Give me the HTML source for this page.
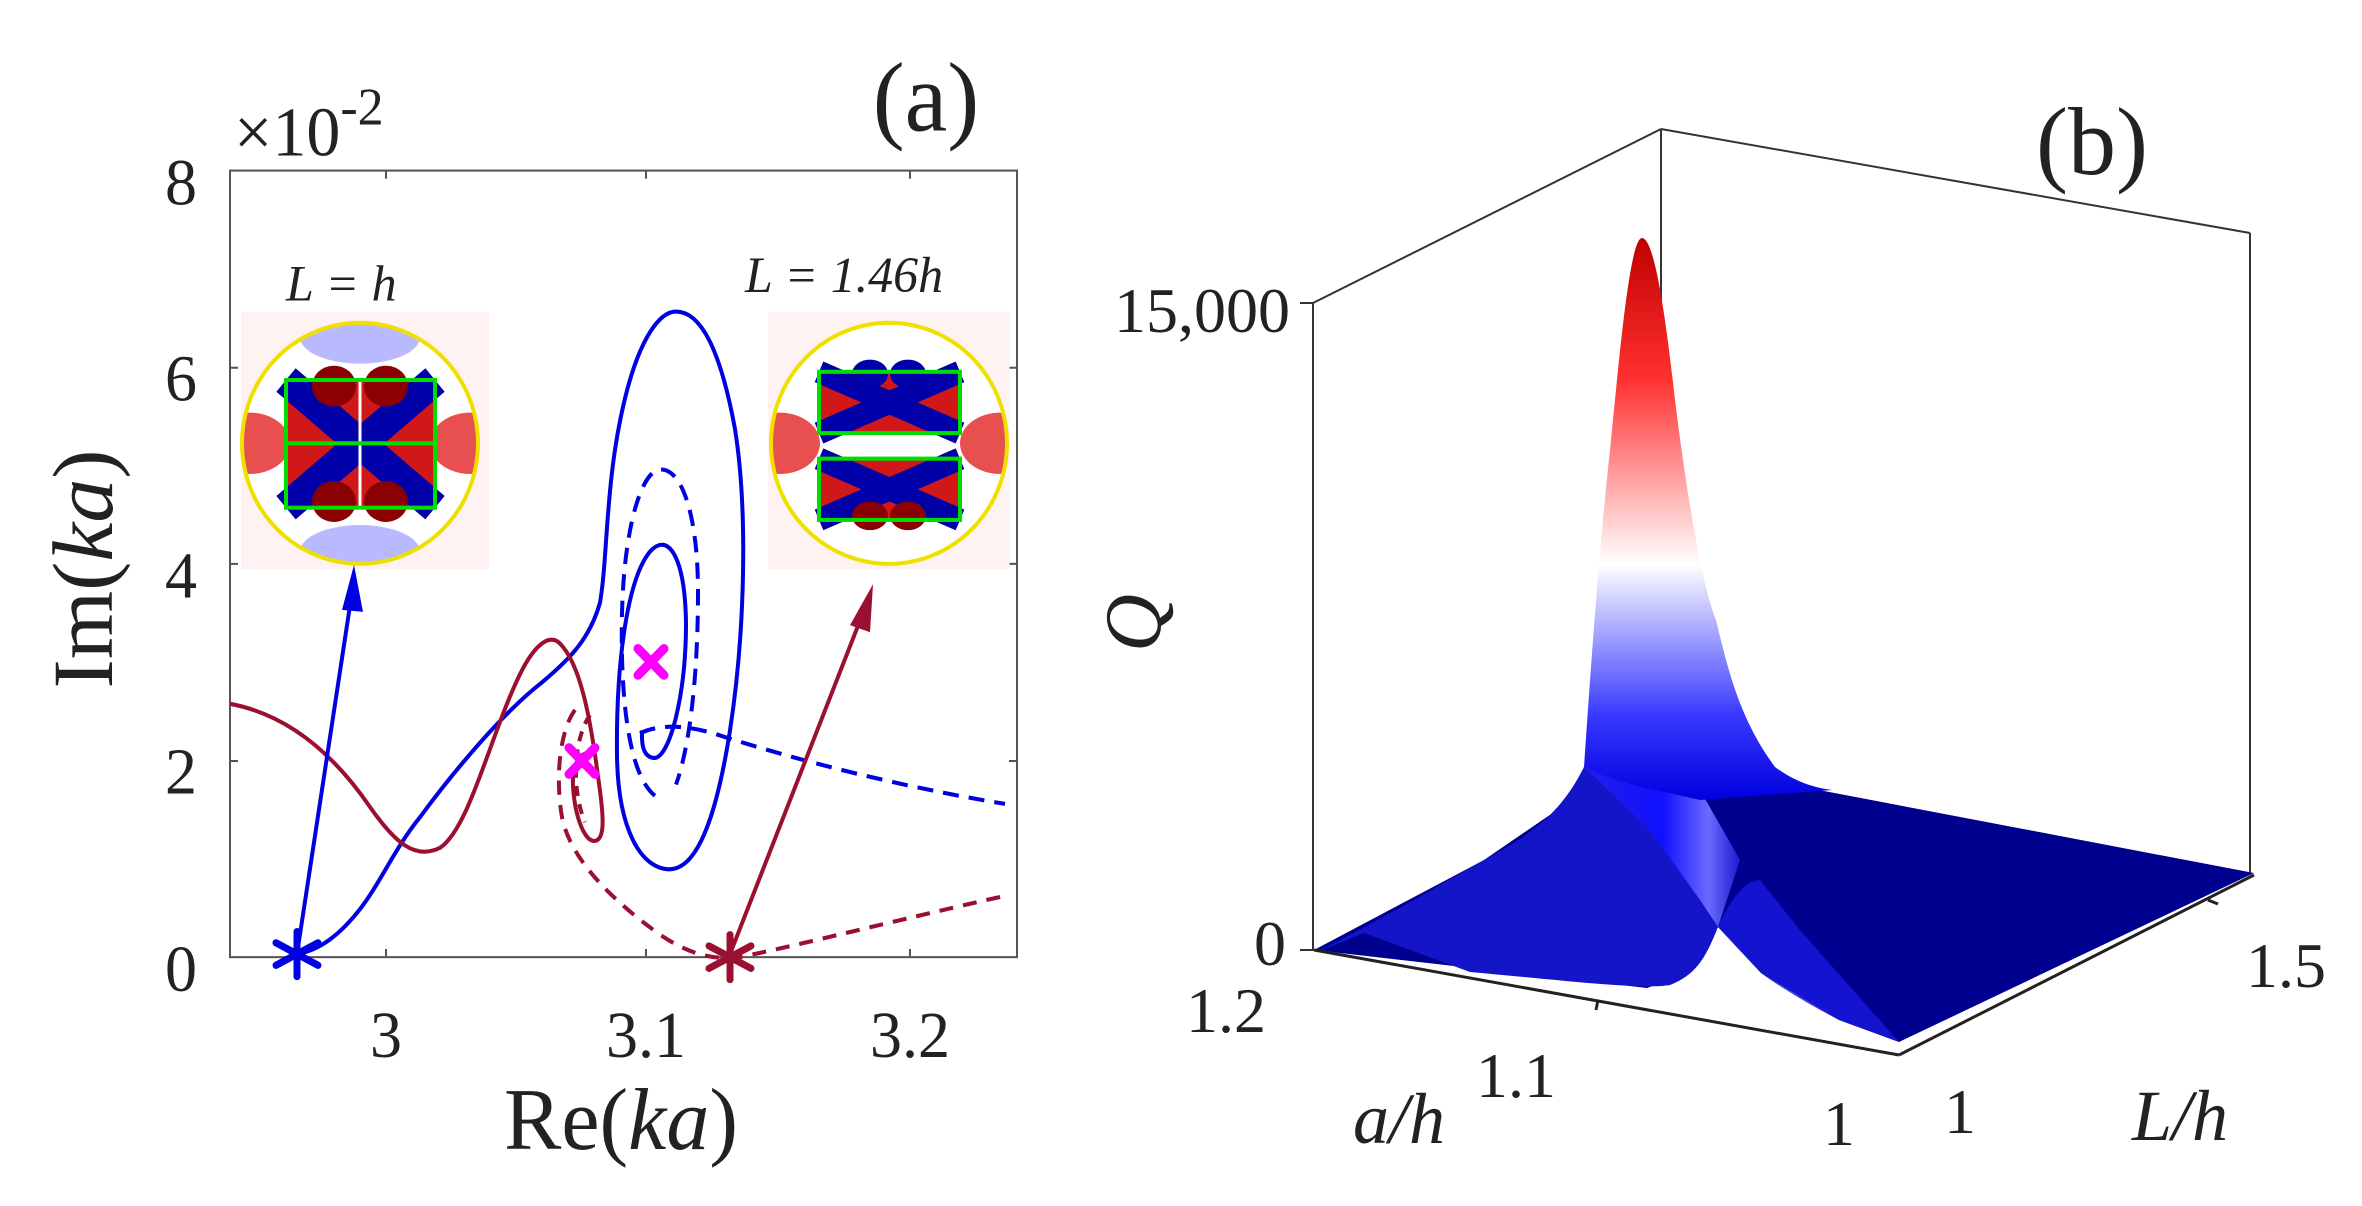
<!DOCTYPE html>
<html><head><meta charset="utf-8"><style>
body{margin:0;background:#fff}
svg{display:block}
text{font-family:"Liberation Serif",serif;fill:#222}
</style></head><body>
<svg width="2362" height="1206" viewBox="0 0 2362 1206" xmlns="http://www.w3.org/2000/svg">
<defs>
<linearGradient id="pk" x1="0" y1="238" x2="0" y2="800" gradientUnits="userSpaceOnUse">
<stop offset="0" stop-color="#c00000"/><stop offset="0.25" stop-color="#ff3030"/><stop offset="0.58" stop-color="#ffffff"/><stop offset="0.85" stop-color="#3838ff"/><stop offset="1" stop-color="#0000e0"/></linearGradient>
<linearGradient id="rg" x1="1584" y1="0" x2="1740" y2="0" gradientUnits="userSpaceOnUse">
<stop offset="0" stop-color="#2020e8"/><stop offset="0.5" stop-color="#1010ff"/><stop offset="0.8" stop-color="#6a6aff"/><stop offset="1" stop-color="#1a1ad0"/></linearGradient>
<clipPath id="c1"><circle cx="360" cy="434" r="118"/></clipPath>
<clipPath id="c2"><circle cx="889" cy="434" r="118"/></clipPath>
</defs>

<g transform="scale(1,1.0215)">
<!-- panel a -->
<rect x="230" y="167" width="787" height="770" fill="#fff" stroke="#555" stroke-width="2"/>
<g stroke="#555" stroke-width="2">
<line x1="386" y1="937" x2="386" y2="929"/><line x1="646" y1="937" x2="646" y2="929"/><line x1="910" y1="937" x2="910" y2="929"/>
<line x1="386" y1="167" x2="386" y2="175"/><line x1="646" y1="167" x2="646" y2="175"/><line x1="910" y1="167" x2="910" y2="175"/>
<line x1="230" y1="745" x2="238" y2="745"/><line x1="230" y1="552" x2="238" y2="552"/><line x1="230" y1="360" x2="238" y2="360"/>
<line x1="1017" y1="745" x2="1009" y2="745"/><line x1="1017" y1="552" x2="1009" y2="552"/><line x1="1017" y1="360" x2="1009" y2="360"/>
</g>
<g font-size="64" text-anchor="middle">
<text x="181" y="200">8</text><text x="181" y="392">6</text><text x="181" y="585">4</text><text x="181" y="777">2</text><text x="181" y="970">0</text>
<text x="386" y="1035">3</text><text x="646" y="1035">3.1</text><text x="910" y="1035">3.2</text>
</g>
<text x="234" y="152" font-size="68">×10<tspan font-size="52" dy="-30">-2</tspan></text>
<text x="926" y="128" font-size="96" text-anchor="middle">(a)</text>
<text x="621" y="1125" font-size="86" text-anchor="middle">Re(<tspan font-style="italic">ka</tspan>)</text>
<text transform="translate(112,557) rotate(-90)" font-size="86" text-anchor="middle">Im(<tspan font-style="italic">ka</tspan>)</text>

<!-- insets -->
<rect x="241" y="305" width="248" height="252" fill="#fdeaea" opacity="0.6"/>
<rect x="768" y="305" width="242" height="252" fill="#fdeaea" opacity="0.6"/>
<g clip-path="url(#c1)">
<rect x="240" y="314" width="240" height="240" fill="#fff"/>
<ellipse cx="250" cy="434" rx="40" ry="30" fill="#e8504f"/><ellipse cx="470" cy="434" rx="40" ry="30" fill="#e8504f"/>
<ellipse cx="360" cy="330" rx="60" ry="26" fill="#8a8aff" opacity="0.6"/><ellipse cx="360" cy="540" rx="60" ry="26" fill="#8a8aff" opacity="0.6"/>
<rect x="286" y="372" width="149" height="125" fill="#d01818"/>
<path d="M286 372L435 497M435 372L286 497" stroke="#0000a8" stroke-width="30"/>
<ellipse cx="334" cy="378" rx="22" ry="20" fill="#8b0000"/><ellipse cx="386" cy="378" rx="22" ry="20" fill="#8b0000"/>
<ellipse cx="334" cy="491" rx="22" ry="20" fill="#8b0000"/><ellipse cx="386" cy="491" rx="22" ry="20" fill="#8b0000"/>
<line x1="360" y1="372" x2="360" y2="497" stroke="#fff" stroke-width="3"/>
</g>
<circle cx="360" cy="434" r="118" fill="none" stroke="#f0e000" stroke-width="4"/>
<rect x="286" y="372" width="149" height="125" fill="none" stroke="#00dd00" stroke-width="4"/>
<line x1="286" y1="434" x2="435" y2="434" stroke="#00dd00" stroke-width="4"/>
<g clip-path="url(#c2)">
<rect x="770" y="314" width="240" height="240" fill="#fff"/>
<ellipse cx="780" cy="434" rx="40" ry="30" fill="#e8504f"/><ellipse cx="1000" cy="434" rx="40" ry="30" fill="#e8504f"/>
<rect x="819" y="364" width="141" height="60" fill="#d01818"/><rect x="819" y="449" width="141" height="60" fill="#d01818"/>
<path d="M819 364L960 424M960 364L819 424M819 449L960 509M960 449L819 509" stroke="#0000a8" stroke-width="22"/>
<ellipse cx="870" cy="366" rx="18" ry="14" fill="#0000a8"/><ellipse cx="908" cy="366" rx="18" ry="14" fill="#0000a8"/>
<ellipse cx="870" cy="505" rx="18" ry="14" fill="#8b0000"/><ellipse cx="908" cy="505" rx="18" ry="14" fill="#8b0000"/>
<ellipse cx="889" cy="437" rx="40" ry="10" fill="#fff"/>
</g>
<circle cx="889" cy="434" r="118" fill="none" stroke="#f0e000" stroke-width="4"/>
<rect x="819" y="364" width="141" height="60" fill="none" stroke="#00dd00" stroke-width="4"/>
<rect x="819" y="449" width="141" height="60" fill="none" stroke="#00dd00" stroke-width="4"/>
<text x="286" y="294" font-size="50" font-style="italic">L = h</text>
<text x="745" y="286" font-size="50" font-style="italic">L = 1.46h</text>

<!-- curves -->
<g fill="none" stroke-width="4" stroke-linejoin="round">
<path stroke="#0000e0" d="M297 934 C320 930 340 915 360 890 C380 865 395 830 420 800 C450 760 500 700 542 668 C570 645 590 625 600 590 C608 545 605 470 625 390 C640 330 660 305 676 305 C700 305 720 340 735 420 C748 500 745 620 730 715 C718 790 700 850 670 851 C640 851 618 810 617 740 C616 660 625 570 650 540 C668 520 685 545 686 610 C686 680 670 740 655 742 C640 742 642 720 642 715"/>
<path stroke="#0000e0" stroke-dasharray="16,10" d="M655 779 C630 760 620 690 622 600 C624 520 640 465 658 460 C680 455 698 500 698 580 C698 660 690 730 676 768"/>
<path stroke="#0000e0" stroke-dasharray="16,10" d="M640 718 C660 708 690 710 720 720 C800 745 900 770 1005 787"/>
<path stroke="#9b1030" d="M230 689 C290 700 335 740 370 790 C395 825 415 842 440 830 C470 810 490 720 520 660 C535 630 550 620 560 630 C580 650 590 700 598 760 C604 800 605 820 596 823 C585 826 575 800 573 770 C572 750 578 740 587 737"/>
<path stroke="#9b1030" stroke-dasharray="14,10" d="M575 695 C560 715 555 760 562 800 C570 840 610 880 660 915 C690 935 715 940 740 937 C800 925 900 900 1005 877"/>
<path stroke="#9b1030" stroke-dasharray="10,8" d="M590 700 C575 720 570 770 585 805"/>
</g>
<g stroke-width="4">
<line x1="297" y1="934" x2="352" y2="580" stroke="#0000e0"/>
<line x1="730" y1="934" x2="865" y2="595" stroke="#9b1030"/>
</g>
<polygon points="354,553 342,597 363,599" fill="#0000e0"/>
<polygon points="873,572 850,612 870,619" fill="#9b1030"/>
<g stroke-width="7" stroke-linecap="round">
<g stroke="#0000e0"><line x1="297" y1="912" x2="297" y2="956"/><line x1="276" y1="923" x2="318" y2="945"/><line x1="276" y1="945" x2="318" y2="923"/></g>
<g stroke="#9b1030"><line x1="730" y1="915" x2="730" y2="959"/><line x1="709" y1="926" x2="751" y2="948"/><line x1="709" y1="948" x2="751" y2="926"/></g>
<g stroke="#ff00ff" stroke-width="9"><line x1="638" y1="635" x2="664" y2="661"/><line x1="638" y1="661" x2="664" y2="635"/><line x1="569" y1="732" x2="595" y2="758"/><line x1="569" y1="758" x2="595" y2="732"/></g>
</g>
</g>

<!-- panel b (true coords) -->
<g stroke="#333" stroke-width="2" fill="none">
<line x1="1313" y1="303" x2="1661" y2="129"/><line x1="1661" y1="129" x2="2250" y2="233"/>
<line x1="1661" y1="129" x2="1661" y2="770"/>
<line x1="2250" y1="233" x2="2250" y2="875"/>
<line x1="1313" y1="303" x2="1313" y2="950"/>
<line x1="1300" y1="303" x2="1313" y2="303"/><line x1="1300" y1="950" x2="1314" y2="950"/>
</g>
<!-- surface -->
<polygon fill="#00008f" points="1314,950 1484,860 1576,797 1584,767 1782,783 2254,873 1899,1042 1839,1020 1761,973 1718,927 1690,973 1647,988"/>
<path fill="#1414c8" d="M1317 952 C1380 920 1440 885 1484 860 C1530 835 1560 815 1584 767 L1640 790 L1700 880 L1718 927 C1705 960 1695 975 1670 985 C1640 990 1560 980 1470 972 L1364 933 Z"/>
<polygon fill="url(#rg)" points="1584,767 1650,760 1700,790 1740,860 1718,927 1700,900 1650,830"/>
<path fill="#1818e0" d="M1718 927 C1730 900 1745 880 1760 880 L1800 930 L1899 1042 L1839 1020 C1800 1000 1770 980 1761 973 Z" opacity="0.8"/>
<path fill="url(#pk)" d="M1584 767 C1590 680 1598 560 1610 450 C1620 350 1630 238 1642 238 C1654 238 1665 310 1675 400 C1685 480 1700 580 1716 620 C1728 670 1740 720 1775 767 C1795 782 1815 788 1832 790 L1700 800 C1660 790 1620 785 1584 767 Z"/>
<g stroke="#222" stroke-width="3" fill="none">
<line x1="1314" y1="950" x2="1899" y2="1055"/><line x1="1899" y1="1055" x2="2254" y2="875"/>
<line x1="1598" y1="1000" x2="1596" y2="1010"/><line x1="2208" y1="900" x2="2218" y2="904"/>
</g>
<text x="1290" y="332" font-size="64" text-anchor="end">15,000</text>
<text x="1270" y="965" font-size="64" text-anchor="middle">0</text>
<text x="1226" y="1032" font-size="64" text-anchor="middle">1.2</text>
<text x="1516" y="1097" font-size="64" text-anchor="middle">1.1</text>
<text x="1839" y="1145" font-size="64" text-anchor="middle">1</text>
<text x="1960" y="1133" font-size="64" text-anchor="middle">1</text>
<text x="2286" y="987" font-size="64" text-anchor="middle">1.5</text>
<text x="1399" y="1143" font-size="72" font-style="italic" text-anchor="middle">a/h</text>
<text x="2180" y="1140" font-size="72" font-style="italic" text-anchor="middle">L/h</text>
<text transform="translate(1160,623) rotate(-90)" font-size="80" font-style="italic" text-anchor="middle">Q</text>
<text x="2092" y="174" font-size="96" text-anchor="middle">(b)</text>
</svg>
</body></html>
